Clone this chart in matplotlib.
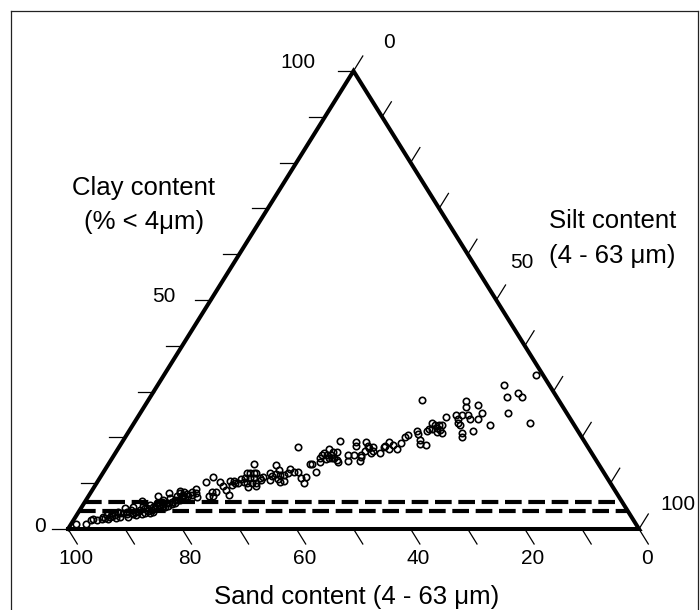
import matplotlib
matplotlib.use("Agg")
import matplotlib.pyplot as plt
from matplotlib.lines import Line2D
import numpy as np

plt.rcParams['font.family'] = ['Liberation Sans', 'DejaVu Sans']

# Sample composition (percent); silt = 100 - sand - clay
sand = [1.3, 8.0, 6.4, 6.1, 8.8, 10.3, 7.6, 14.8, 16.4, 17.0, 14.7, 14.9, 16.2,
        21.6, 19.6, 18.6, 17.5, 17.6, 19.7, 20.2, 20.0, 20.6, 21.0, 18.5, 23.2,
        24.0, 24.7, 24.3, 23.7, 25.8, 25.3, 24.3, 24.1, 24.0, 26.3, 24.7, 28.1,
        28.4, 28.7, 29.1, 28.2, 30.2, 30.9, 32.2, 33.6, 33.9, 34.3, 35.3, 35.1,
        35.8, 37.1, 37.6, 38.1, 38.4, 38.7, 38.4, 38.3, 39.4, 40.1, 40.5, 40.5,
        40.9, 41.5, 41.8, 42.8, 43.5, 42.8, 44.5, 45.3, 45.4, 45.1, 45.9, 45.6,
        46.6, 46.9, 47.4, 46.6, 46.1, 45.6, 47.2, 48.2, 48.6, 50.2, 50.3, 50.7,
        52.7, 53.7, 53.7, 60.2, 56.6, 58.5, 56.6, 57.0, 57.5, 58.4, 56.2, 55.4,
        54.6, 54.2, 53.4, 50.5, 57.8, 57.7, 57.0, 62.6, 62.0, 61.4, 60.9, 63.5,
        62.6, 61.8, 60.9, 63.7, 62.8, 62.0, 60.8, 63.9, 62.4, 64.1, 64.2, 60.1,
        59.3, 65.6, 66.3, 66.4, 65.2, 65.7, 68.2, 68.1, 68.0, 68.1, 68.9, 70.6,
        70.0, 70.7, 71.7, 71.0, 73.3, 73.7, 74.0, 74.2, 75.4, 75.7, 76.5, 76.6,
        76.2, 77.2,
        98.0, 96.2, 95.0, 94.5, 93.0, 92.6, 91.7, 91.3, 90.6, 90.3, 89.3, 89.5,
        88.6, 87.8, 87.8, 88.1, 87.0, 87.1, 86.2, 86.4, 86.5, 85.3, 84.0, 84.3,
        84.8, 84.0, 83.0, 83.2, 82.3, 81.7, 80.7, 81.6, 80.6, 80.8, 79.9, 78.4,
        79.9, 78.8, 78.1, 77.5, 76.2, 76.7, 75.3, 74.5,
        85.9, 85.4, 84.0, 83.2, 82.2, 83.9, 84.3, 80.8, 80.6, 79.1, 78.4, 86.9,
        88.0, 89.2, 90.9, 90.4, 92.3, 91.9, 93.9, 78.7, 77.3, 76.2, 82.7, 80.2,
        81.5]
clay = [33.6, 31.4, 29.6, 28.8, 28.8, 25.3, 23.1, 22.6, 27.9, 26.6, 27.0, 25.3, 24.0,
        24.4, 24.8, 24.8, 24.8, 24.0, 24.0, 23.1, 22.6, 20.9, 20.0, 21.3, 22.6,
        28.1, 23.2, 22.7, 22.6, 21.8, 21.8, 22.1, 21.6, 20.9, 21.5, 21.2, 21.5,
        20.7, 19.4, 18.6, 18.3, 20.5, 20.0, 18.8, 17.5, 18.3, 18.9, 18.2, 17.5,
        17.8, 16.5, 18.0, 17.1, 17.6, 16.5, 18.2, 18.9, 17.0, 18.9, 18.2, 16.2,
        15.7, 14.8, 16.2, 16.2, 14.8, 19.2, 16.9, 15.1, 14.7, 16.9, 16.2, 17.5,
        16.2, 16.7, 16.2, 15.4, 15.4, 15.6, 15.3, 15.4, 14.7, 14.3, 12.5, 18.0,
        11.3, 10.0, 11.1, 14.3, 14.0, 12.3, 12.9, 11.8, 12.0, 11.6, 11.8, 12.2,
        13.0, 12.5, 12.5, 14.3, 10.9, 10.3, 10.5, 12.2, 12.2, 12.2, 12.2, 11.1,
        11.1, 11.1, 11.1, 10.0, 10.0, 10.0, 10.7, 9.1, 9.4, 10.3, 10.9, 11.4,
        10.7, 10.5, 10.5, 9.6, 10.0, 10.1, 10.3, 9.4, 8.5, 7.4, 11.4, 10.3,
        8.1, 8.1, 7.2, 7.2, 8.7, 7.8, 6.9, 8.1, 7.6, 8.1, 7.8, 6.9,
        6.7, 6.3,
        1.2, 1.2, 2.0, 2.1, 2.1, 2.7, 3.1, 2.6, 3.4, 3.1, 3.8, 2.7,
        3.4, 4.5, 3.8, 2.7, 4.1, 3.4, 4.7, 3.8, 3.1, 4.1, 6.1, 5.0,
        3.4, 4.5, 5.2, 4.1, 4.9, 5.6, 7.1, 4.5, 6.0, 5.0, 5.6, 7.9,
        5.1, 6.0, 6.3, 6.3, 8.3, 6.7, 7.2, 7.5,
        3.7, 3.3, 3.9, 3.7, 4.5, 3.5, 4.5, 5.5, 4.8, 5.5, 5.7, 3.3,
        3.3, 3.5, 2.8, 2.4, 2.4, 2.2, 2.0, 6.8, 7.2, 7.4, 4.9, 6.3,
        5.3]

tick_steps = list(range(0, 101, 10))
clay_labels = [0, 50, 100]
silt_labels = [0, 50, 100]
sand_labels = [100, 80, 60, 40, 20, 0]
threshold_clay = [4, 6]

W, H = 700, 610
fig = plt.figure(figsize=(W / 100, H / 100), dpi=100)

# triangle frame in pixels: base from x=68 to 639 at y=529, apex at y=71
x_left, x_right, y_base, y_apex = 68, 639, 529, 71
px_x = x_right - x_left
px_y = y_base - y_apex
ax = fig.add_axes([x_left / W, (H - y_base) / H, px_x / W, px_y / H])
ax.set_xlim(0, 1)
ax.set_ylim(0, 1)
ax.axis('off')


def tern(sand_pct, clay_pct):
    s = np.asarray(sand_pct, dtype=float) / 100.0
    c = np.asarray(clay_pct, dtype=float) / 100.0
    return 1.0 - s - 0.5 * c, c


def px_offset(dx, dy):
    """pixel offset (x right, y down) -> data offset"""
    return dx / px_x, -dy / px_y


# outer frame
for xs, ys in [([10.5, 10.5], [0, H - 10.5]), ([10.5, 697.5], [H - 10.5, H - 10.5]),
               ([697.5, 697.5], [H - 10.5, 0])]:
    fig.add_artist(Line2D(np.array(xs) / W, np.array(ys) / H, color='#222222', lw=0.9))

# triangle
ax.plot([0, 1, 0.5, 0], [0, 0, 1, 0], color='black', lw=2.9,
        solid_joinstyle='miter', clip_on=False, zorder=3)

tick_kw = dict(color='black', lw=0.9, clip_on=False)
num_kw = dict(textcoords='offset points', ha='center', va='center',
              fontsize=15, annotation_clip=False)

# clay ticks: horizontal, on the left edge
for v in tick_steps:
    X, Y = tern(100 - v, v)
    dx, dy = px_offset(-16, 0)
    ax.plot([X, X + dx], [Y, Y + dy], **tick_kw)
clay_off = {0: (-28, -2), 50: (-47, -4), 100: (-56, -9)}
for v in clay_labels:
    X, Y = tern(100 - v, v)
    ox, oy = clay_off[v]
    ax.annotate(str(v), (X, Y), xytext=(ox * 0.72, -oy * 0.72), **num_kw)

# silt ticks: on the right edge, parallel to the left edge
for v in tick_steps:
    X, Y = tern(0, 100 - v)
    dx, dy = px_offset(9.3, -15)
    ax.plot([X, X + dx], [Y, Y + dy], **tick_kw)
silt_off = {0: (35, -29), 50: (26, -38), 100: (39, -24)}
for v in silt_labels:
    X, Y = tern(0, 100 - v)
    ox, oy = silt_off[v]
    ax.annotate(str(v), (X, Y), xytext=(ox * 0.72, -oy * 0.72), **num_kw)

# sand ticks: on the base, parallel to the right edge
for v in tick_steps:
    X, Y = tern(v, 0)
    dx, dy = px_offset(9.3, 15)
    ax.plot([X, X + dx], [Y, Y + dy], **tick_kw)
for v in sand_labels:
    X, Y = tern(v, 0)
    ax.annotate(str(v), (X, Y), xytext=(8 * 0.72, -30 * 0.72), **num_kw)

# clay threshold lines
for c in threshold_clay:
    xa, ya = tern(100 - c, c)
    xb, yb = tern(0, c)
    ax.plot([xa, xb], [ya, yb], color='black', lw=3, dashes=(4, 1.6),
            solid_capstyle='butt', dash_capstyle='butt', zorder=2)

# samples
X, Y = tern(sand, clay)
ax.plot(X, Y, 'o', ms=4.6, mfc='none', mec='black', mew=1.2, ls='none',
        clip_on=False, zorder=4)

# axis titles
title_kw = dict(fontsize=18.5, va='center')
fig.text(143.5 / W, 1 - 188 / H, 'Clay content', ha='center', **title_kw)
fig.text(144 / W, 1 - 222 / H, '(% < 4μm)', ha='center', **title_kw)
fig.text(549 / W, 1 - 221 / H, 'Silt content', ha='left', **title_kw)
fig.text(549 / W, 1 - 256 / H, '(4 - 63 μm)', ha='left', **title_kw)
fig.text(357 / W, 1 - 597 / H, 'Sand content (4 - 63 μm)', ha='center', **title_kw)

fig.savefig('out.png', dpi=100, facecolor='white')
